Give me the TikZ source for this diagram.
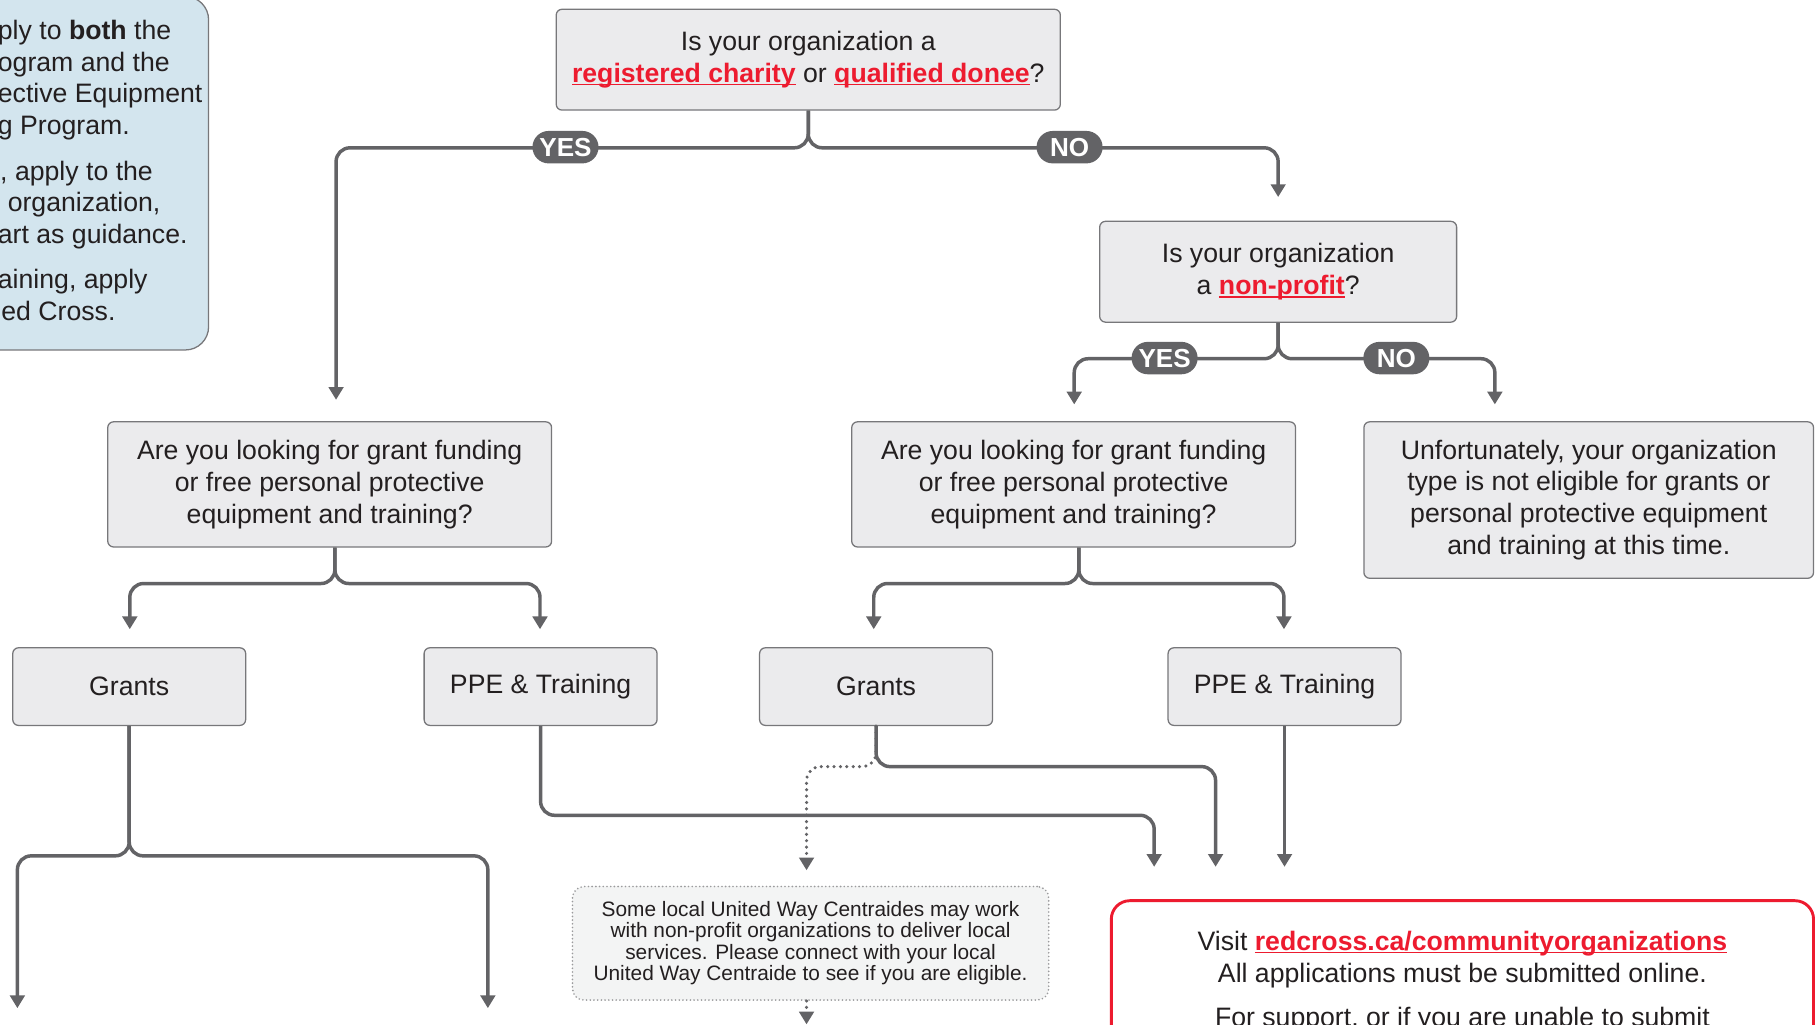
\documentclass[tikz,border=0pt]{standalone}
\usepackage{fontspec}
\setmainfont{Liberation Sans}
\usetikzlibrary{positioning,arrows.meta}

\definecolor{boxfill}{HTML}{EBEBED}
\definecolor{boxedge}{HTML}{77777A}
\definecolor{flowgray}{HTML}{636366}
\definecolor{rcred}{HTML}{ED1B2F}
\definecolor{noteblue}{HTML}{D3E5EE}
\definecolor{ink}{HTML}{231F20}
\definecolor{uwfill}{HTML}{F3F4F4}
\definecolor{uwedge}{HTML}{9B9B9D}

% red, bold, underlined link text
\newcommand{\rclink}[1]{{\color{rcred}\bfseries\setbox0\hbox{#1}%
    \rlap{\rule[-2.6pt]{\wd0}{1.4pt}}\box0}}

\begin{document}
\begin{tikzpicture}[
    x=1pt, y=-1pt,
    every node/.style={font=\fontsize{23}{27.5}\selectfont, text=ink},
    box/.style={
        draw=boxedge, fill=boxfill, line width=1.1pt,
        rounded corners=5pt, align=center, inner sep=0pt
    },
    question/.style={box, minimum width=383pt, minimum height=108pt},
    choice/.style={box, minimum width=201pt, minimum height=67pt},
    uwbox/.style={
        draw=uwedge, fill=uwfill, line width=1.6pt, line cap=round,
        dash pattern=on 0pt off 3.2pt, rounded corners=10pt,
        align=center, inner sep=0pt, minimum width=411pt, minimum height=98pt,
        font=\fontsize{18}{18.5}\selectfont
    },
    tag/.style={
        fill=flowgray, text=white, rounded corners=14pt,
        minimum height=28pt, minimum width=57pt, inner xsep=6pt, inner ysep=0pt,
        font=\fontsize{22.5}{22.5}\selectfont\bfseries
    },
    flow/.style={draw=flowgray, line width=3pt, rounded corners=12pt,
        -{Triangle[width=12.5pt,length=11pt]}},
    flowdot/.style={flow, line cap=round, dash pattern=on 0pt off 5.5pt},
]
\clip (0,0) rectangle (1568,884);

% note on the left, cut by the page edge
\draw[draw=boxedge, fill=noteblue, line width=1.1pt, rounded corners=20pt]
    (-200,-3) rectangle (180,302);
\node[anchor=north west, align=left, inner sep=0pt] (note) at (-2,17)
    {ply to \textbf{both} the\\ ogram and the\\ ective Equipment\\ g Program.\\[11.5pt]
     \hspace*{2pt}, apply to the\\ \hspace*{8.5pt}organization,\\ art as guidance.\\[11.5pt]
     aining, apply\\ \hspace*{3pt}ed Cross.};

% questions
\node[box, minimum width=435pt, minimum height=87pt] (q1) at (697.5,51.5)
    {Is your organization a\\ \rclink{registered charity} or \rclink{qualified donee}?};
\node[box, minimum width=308pt, minimum height=87pt] (q2) at (1103,234.5)
    {Is your organization\\ a \rclink{non-profit}?};
\node[question] (q3) at (284.5,418)
    {Are you looking for grant funding\\ or free personal protective\\ equipment and training?};
\node[question] (q4) at (926.5,418)
    {Are you looking for grant funding\\ or free personal protective\\ equipment and training?};
\node[box, minimum width=388pt, minimum height=135pt] (noelig) at (1371,431.5)
    {Unfortunately, your organization\\ type is not eligible for grants or\\ personal protective equipment\\ and training at this time.};

% programs
\node[choice] (g1) at (111.5,592.5) {Grants};
\node[choice] (p1) at (466.5,592.5) {PPE \& Training};
\node[choice] (g2) at (756,592.5) {Grants};
\node[choice] (p2) at (1108.5,592.5) {PPE \& Training};

% outcomes
\node[uwbox] (uw) at (699.5,814)
    {Some local United Way Centraides may work\\ with non-profit organizations to deliver local\\ services. Please connect with your local\\ United Way Centraide to see if you are eligible.};
\node[anchor=north, draw=rcred, fill=white, line width=2.5pt, rounded corners=16pt,
      inner xsep=0pt, inner ysep=26pt] (visit) at (1262,776)
    {\parbox[t][240pt][t]{606pt}{\centering
        Visit \rclink{redcross.ca/communityorganizations}\\
        All applications must be submitted online.\\[11pt]
        For support, or if you are unable to submit}};

% arrow ends
\coordinate (in-q3) at (290,345);
\coordinate (in-q2) at (1103,170);
\coordinate (in-q4) at (927,349);
\coordinate (in-no) at (1290,349);
\coordinate (in-g1) at (112,543);
\coordinate (in-p1) at (466,543);
\coordinate (in-g2) at (754,543);
\coordinate (in-p2) at (1108,543);
\coordinate (in-v1) at (996,748);
\coordinate (in-v2) at (1049,748);
\coordinate (in-v3) at (1108.5,748);
\coordinate (in-uw) at (696,751);
\coordinate (out-l) at (15,870);
\coordinate (out-r) at (421,870);
\coordinate (out-uw) at (696,884);

% connectors
\draw[flow] (q1.south) -- ++(0,32) -| (in-q3);
\draw[flow] (q1.south) -- ++(0,32) -| (in-q2);
\draw[flow] (q2.south) -- ++(0,31) -| (in-q4);
\draw[flow] (q2.south) -- ++(0,31) -| (in-no);
\draw[flow] ([xshift=4.5pt]q3.south) -- ++(0,31) -| (in-g1);
\draw[flow] ([xshift=4.5pt]q3.south) -- ++(0,31) -| (in-p1);
\draw[flow] ([xshift=4.5pt]q4.south) -- ++(0,31) -| (in-g2);
\draw[flow] ([xshift=4.5pt]q4.south) -- ++(0,31) -| (in-p2);
\draw[flow] (g1.south) -- ++(0,112) -| (out-l);
\draw[flow] (g1.south) -- ++(0,112) -| (out-r);
\draw[flow] (p1.south) -- ++(0,77) -| (in-v1);
\draw[flow] (g2.south) -- ++(0,35) -| (in-v2);
\draw[flowdot] (g2.south) -- ++(0,35) -| (in-uw);
\draw[flow] (p2.south) -- (in-v3);
\draw[flowdot] (uw.south -| in-uw) -- (out-uw);

% answers
\node[tag] (yes1) at (488,127) {YES};
\node[tag] (no1) at (923,127) {NO};
\node[tag] (yes2) at (1005,309) {YES};
\node[tag] (no2) at (1205,309) {NO};
\end{tikzpicture}
\end{document}
